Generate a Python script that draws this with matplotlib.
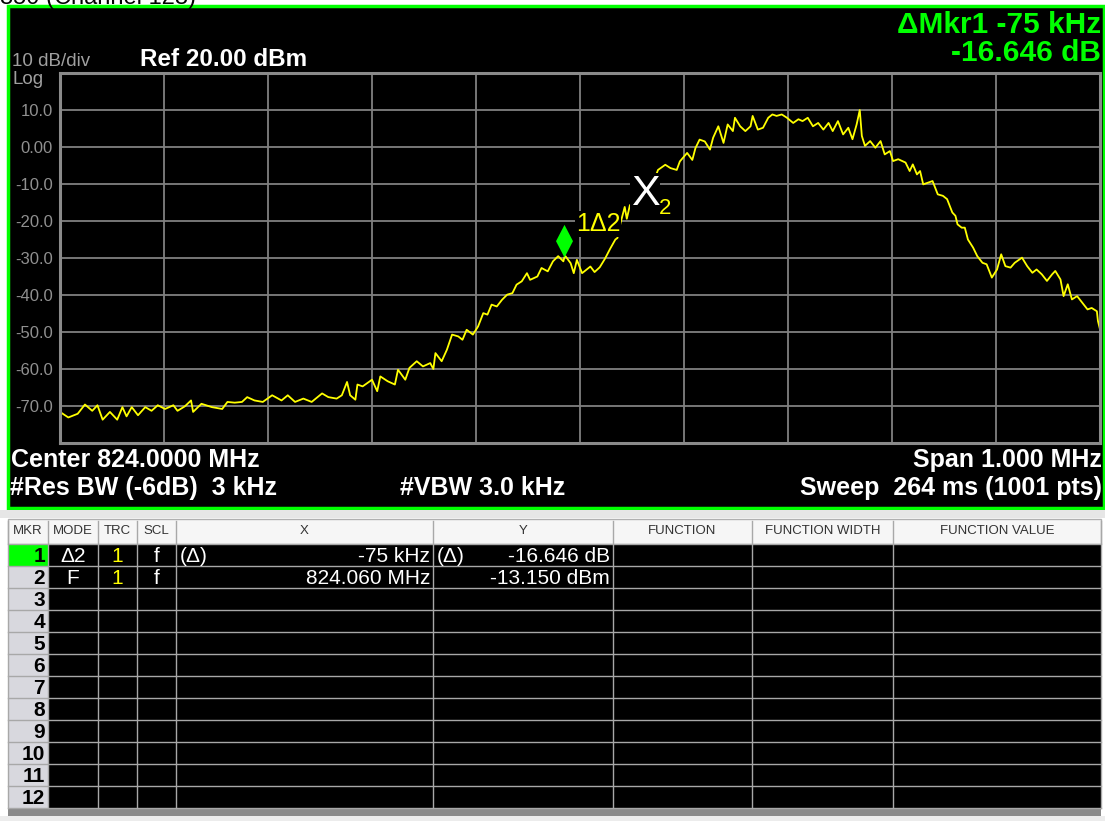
import numpy as np
import matplotlib.pyplot as plt
from matplotlib.path import Path
from matplotlib.patches import Rectangle

plt.rcParams['font.family'] = ['Liberation Sans', 'DejaVu Sans']

# trace: offset from center (kHz) and level (dBm)
freq_khz = [-500, -492, -483, -476, -469, -464, -459, -452, -445, -440,
            -436, -431, -425, -418, -412, -406, -399, -391, -387, -380,
            -374, -372, -364, -354, -344, -339, -332, -325, -320, -313,
            -305, -296, -287, -281, -274, -266, -258, -248, -242, -234,
            -229, -224, -221, -216, -214, -209, -200, -195, -192, -185,
            -178, -175, -168, -164, -157, -151, -144, -141, -139, -133,
            -128, -123, -117, -113, -109, -103, -98, -93, -89, -85,
            -80, -75, -70, -65, -61, -56, -51, -48, -41, -37,
            -31, -26, -21, -16, -15, -14, -9, -6, -3, 2,
            10, 14, 19, 24, 29, 34, 36, 39, 43, 45,
            48, 53, 60, 64, 69, 75, 82, 87, 93, 96,
            103, 108, 111, 115, 120, 125, 128, 133, 138, 142,
            147, 149, 154, 159, 164, 166, 171, 176, 181, 185,
            189, 194, 199, 205, 210, 214, 219, 224, 229, 234,
            239, 243, 248, 253, 258, 262, 266, 269, 271, 274,
            279, 284, 289, 293, 298, 301, 306, 313, 317, 320,
            324, 327, 330, 335, 339, 344, 349, 353, 358, 361,
            363, 367, 370, 373, 378, 382, 387, 391, 396, 401,
            405, 409, 414, 418, 425, 430, 435, 439, 444, 449,
            454, 457, 462, 465, 469, 473, 478, 483, 488, 492,
            497, 498, 500]
level_dbm = [-71.6, -73.1, -72.1, -69.6, -71.3, -69.8, -73.7, -71.6, -73.7, -70.3,
             -72.8, -70.3, -72.5, -70.3, -71.3, -69.8, -70.8, -69.8, -71.3, -70.1,
             -68.5, -71.6, -69.4, -70.3, -70.8, -68.9, -69.1, -68.9, -67.6, -68.5,
             -68.9, -67.1, -68.5, -67.1, -68.9, -68.0, -68.9, -66.6, -67.6, -68.0,
             -67.1, -63.5, -67.1, -68.3, -64.2, -64.7, -62.9, -66.0, -62.0, -63.3,
             -64.2, -60.2, -62.9, -59.7, -57.9, -59.3, -58.4, -60.0, -55.7, -57.9,
             -54.8, -50.7, -51.2, -52.1, -49.4, -50.7, -48.5, -44.9, -45.3, -42.6,
             -43.1, -41.3, -39.9, -39.5, -37.2, -36.3, -34.1, -35.9, -35.0, -32.7,
             -33.6, -30.9, -29.5, -30.9, -29.8, -29.5, -31.4, -34.1, -30.5, -34.1,
             -32.3, -33.8, -32.5, -30.2, -27.5, -25.0, -24.6, -20.5, -16.2, -19.4,
             -15.7, -15.5, -13.15, -12.5, -10.7, -6.2, -4.8, -5.7, -6.2, -3.9,
             -1.6, -3.5, -0.3, 2.0, 1.5, -0.7, 2.5, 5.6, 1.1, 6.1,
             4.3, 7.9, 5.6, 4.3, 5.6, 8.4, 4.7, 5.2, 7.9, 8.8,
             8.4, 8.8, 7.9, 6.5, 7.5, 7.0, 7.9, 5.6, 6.5, 4.7,
             6.5, 4.3, 7.0, 3.4, 5.2, 2.1, 6.1, 10.0, 3.0, 0.3,
             1.6, -0.2, 1.6, -2.0, -1.1, -3.8, -3.3, -4.2, -6.5, -4.7,
             -7.4, -6.5, -10.1, -9.6, -9.2, -12.8, -13.2, -14.1, -17.7, -18.6,
             -20.9, -21.8, -21.8, -25.0, -27.2, -29.5, -31.3, -31.7, -35.3, -33.1,
             -29.0, -32.2, -32.6, -31.3, -29.9, -32.2, -34.0, -33.1, -34.4, -36.2,
             -34.4, -33.5, -35.8, -40.3, -37.1, -41.2, -40.3, -42.1, -43.9, -43.5,
             -44.4, -47.0, -49.3]

# markers (kHz offset, dBm)
mkr_freq_khz = [-15, 60]
mkr_level_dbm = [-29.796, -13.150]

ytick_vals = [10, 0, -10, -20, -30, -40, -50, -60, -70]
ytick_text = ['10.0', '0.00', '-10.0', '-20.0', '-30.0', '-40.0', '-50.0', '-60.0', '-70.0']

tbl_cols = ['MKR', 'MODE', 'TRC', 'SCL', 'X', 'Y', 'FUNCTION', 'FUNCTION WIDTH', 'FUNCTION VALUE']
tbl_mode = ['Δ2', 'F']
tbl_trc = ['1', '1']
tbl_scl = ['f', 'f']
tbl_x_pre = ['(Δ)', '']
tbl_x = ['-75 kHz', '824.060 MHz']
tbl_y_pre = ['(Δ)', '']
tbl_y = ['-16.646 dB', '-13.150 dBm']
n_rows = 12

W, H = 1105, 821
GREEN = '#00ff00'

fig = plt.figure(figsize=(W / 100, H / 100), dpi=100, facecolor='white')
bg = fig.add_axes([0, 0, 1, 1])
bg.set_xlim(0, W)
bg.set_ylim(H, 0)
bg.axis('off')

# title cut at the top of the screenshot
bg.text(0, -2, '850 (Channel 128)', fontsize=17, color='black', va='center', ha='left')

# instrument screen
bg.add_patch(Rectangle((8, 6), 1096, 502, fc='black', ec=GREEN, lw=2.5))
bg.add_patch(Rectangle((0, 510), W, 8, fc='#e6e6e6', ec='none'))

wt = dict(color='white', fontweight='bold', va='center')
bg.text(12, 61, '10 dB/div', fontsize=13.5, color='#a0a0a0', va='center')
bg.text(12, 79, 'Log', fontsize=13.5, color='#a0a0a0', va='center')
bg.text(140, 60, 'Ref 20.00 dBm', fontsize=17.5, ha='left', **wt)
bg.text(1101, 25, 'ΔMkr1 -75 kHz', fontsize=21.5, color=GREEN, fontweight='bold', ha='right', va='center')
bg.text(1101, 53, '-16.646 dB', fontsize=21.5, color=GREEN, fontweight='bold', ha='right', va='center')
bg.text(11, 460, 'Center 824.0000 MHz', fontsize=18, ha='left', **wt)
bg.text(10, 488, '#Res BW (-6dB)  3 kHz', fontsize=18, ha='left', **wt)
bg.text(400, 488, '#VBW 3.0 kHz', fontsize=18, ha='left', **wt)
bg.text(1102, 460, 'Span 1.000 MHz', fontsize=18, ha='right', **wt)
bg.text(1102, 488, 'Sweep  264 ms (1001 pts)', fontsize=18, ha='right', **wt)

# marker table
col_edges = [8, 48, 98, 137, 176, 433, 613, 752, 893, 1101]
top, hdr_h, row_h = 519, 25, 22
body_top = top + hdr_h
body_bot = body_top + n_rows * row_h
bg.add_patch(Rectangle((8, top), 1093, hdr_h, fc='#f6f6f6', ec='#b0b0b0', lw=1))
bg.add_patch(Rectangle((48, body_top), 1053, body_bot - body_top, fc='black', ec='none'))
bg.add_patch(Rectangle((8, body_top), 40, body_bot - body_top, fc='#d8d8de', ec='none'))
bg.add_patch(Rectangle((8, body_top), 40, row_h, fc=GREEN, ec='none'))
bg.add_patch(Rectangle((8, body_bot), 1093, 8, fc='#8a8a8a', ec='none'))
bg.add_patch(Rectangle((0, body_bot + 8), W, H - body_bot - 8, fc='#ececec', ec='none'))
for i in range(n_rows + 1):
    y = body_top + i * row_h
    bg.plot([8, 1101], [y, y], color='#a8a8a8', lw=1)
for x in col_edges:
    bg.plot([x, x], [top + 2, body_bot], color='#a8a8a8', lw=1)
for j, name in enumerate(tbl_cols):
    bg.text((col_edges[j] + col_edges[j + 1]) / 2, top + hdr_h / 2, name,
            fontsize=9.5, color='#333333', ha='center', va='center')
for i in range(n_rows):
    yc = body_top + i * row_h + row_h / 2 + 1
    bg.text(45, yc, str(i + 1), fontsize=15, fontweight='bold', color='black', ha='right', va='center')
for i in range(len(tbl_mode)):
    yc = body_top + i * row_h + row_h / 2 + 1
    bg.text(73, yc, tbl_mode[i], fontsize=15, color='white', ha='center', va='center')
    bg.text(117, yc, tbl_trc[i], fontsize=15, color='#ffff00', ha='center', va='center')
    bg.text(157, yc, tbl_scl[i], fontsize=15, color='white', ha='center', va='center')
    bg.text(180, yc, tbl_x_pre[i], fontsize=15, color='white', ha='left', va='center')
    bg.text(430, yc, tbl_x[i], fontsize=15, color='white', ha='right', va='center')
    bg.text(437, yc, tbl_y_pre[i], fontsize=15, color='white', ha='left', va='center')
    bg.text(610, yc, tbl_y[i], fontsize=15, color='white', ha='right', va='center')

# graticule and trace
ax = fig.add_axes([60 / W, 1 - 443 / H, 1040 / W, 370 / H])
ax.set_facecolor('black')
ax.plot(freq_khz, level_dbm, color='#ffff00', lw=1.3)
ax.set_xlim(-500, 500)
ax.set_ylim(-80, 20)
ax.set_xticks(np.arange(-500, 501, 100))
ax.set_yticks(ytick_vals, labels=ytick_text)
ax.grid(color='#808080', lw=1.3)
ax.tick_params(length=0, labelbottom=False, labelsize=12, labelcolor='#909090', pad=5)
for s in ax.spines.values():
    s.set_color('#8a8a8a')
    s.set_linewidth(2.2)

# marker 1 (delta) diamond sitting on the trace
diamond = Path([(0, 0), (0.26, 0.5), (0, 1), (-0.26, 0.5), (0, 0)],
               [Path.MOVETO, Path.LINETO, Path.LINETO, Path.LINETO, Path.CLOSEPOLY])
ax.plot(mkr_freq_khz[0], mkr_level_dbm[0], marker=diamond, markersize=47,
        color=GREEN, markeredgewidth=0, linestyle='none')
ax.annotate('1Δ2', (mkr_freq_khz[0], mkr_level_dbm[0]), xytext=(8.5, 24),
            textcoords='offset points', fontsize=18, color='#ffff00', ha='left', va='center',
            bbox=dict(fc='black', ec='none', pad=0.5))
# marker 2 (fixed) X
ax.annotate('X', (mkr_freq_khz[1], mkr_level_dbm[1]), xytext=(2, 1.5),
            textcoords='offset points', fontsize=31, color='white', ha='center', va='center',
            bbox=dict(fc='black', ec='none', pad=0.5))
ax.annotate('2', (mkr_freq_khz[1], mkr_level_dbm[1]), xytext=(16, -9),
            textcoords='offset points', fontsize=16, color='#ffff00', ha='center', va='center')

fig.savefig('out.png', dpi=100, facecolor=fig.get_facecolor())
